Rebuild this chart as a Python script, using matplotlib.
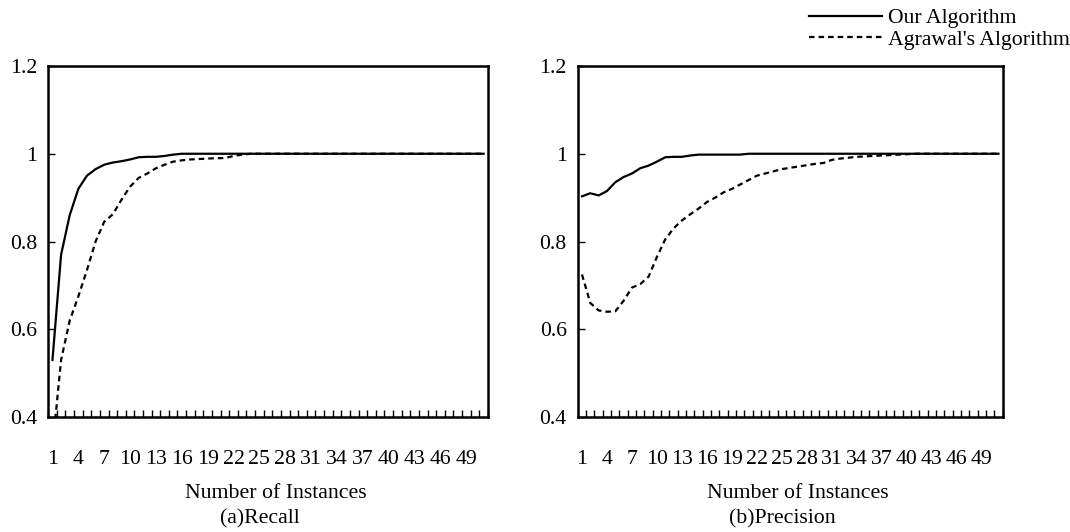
import numpy as np
import matplotlib
matplotlib.use('Agg')
import matplotlib.pyplot as plt
from matplotlib.lines import Line2D

plt.rcParams['font.family'] = ['Liberation Serif', 'DejaVu Serif']
plt.rcParams['font.size'] = 15.7

# data (instances 1..51)
instances = np.arange(1, 52)
recall_ours = [0.53, 0.77, 0.86, 0.92, 0.95, 0.965, 0.975, 0.98, 0.983, 0.987,
               0.992, 0.993, 0.993, 0.995, 0.998] + [1.0] * 36
recall_agrawal = [0.33, 0.53, 0.62, 0.675, 0.735, 0.80, 0.845, 0.862, 0.895, 0.925,
                  0.945, 0.955, 0.967, 0.975, 0.982, 0.985, 0.987, 0.988, 0.989, 0.99,
                  0.99, 0.995, 0.998] + [1.0] * 28
precision_ours = [0.903, 0.91, 0.905, 0.915, 0.935, 0.947, 0.955, 0.967, 0.973, 0.982,
                  0.992, 0.993, 0.993, 0.996, 0.998, 0.998, 0.998, 0.998, 0.998, 0.998] + [1.0] * 31
precision_agrawal = [0.725, 0.66, 0.643, 0.64, 0.641, 0.665, 0.695, 0.703, 0.72, 0.765,
                     0.805, 0.83, 0.848, 0.862, 0.875, 0.89, 0.90, 0.912, 0.92, 0.93,
                     0.94, 0.95, 0.955, 0.96, 0.965, 0.968, 0.971, 0.974, 0.977, 0.979,
                     0.986, 0.989, 0.991, 0.993, 0.994, 0.995, 0.996, 0.997, 0.998, 0.999] + [1.0] * 11
xtick_vals = list(range(1, 50, 3))
ytick_vals = [0.4, 0.6, 0.8, 1.0, 1.2]
ytick_labels = ['0.4', '0.6', '0.8', '1', '1.2']

fig = plt.figure(figsize=(10.7, 5.32), dpi=100)
ax1 = fig.add_axes([0.045, 0.216, 0.411, 0.660])
ax2 = fig.add_axes([0.540, 0.216, 0.397, 0.660])

dash = (2.5, 1.8)
panels = [(ax1, recall_ours, recall_agrawal, '(a)Recall'),
          (ax2, precision_ours, precision_agrawal, '(b)Precision')]
for ax, ours, agr, cap in panels:
    ax.plot(instances, ours, color='black', lw=1.6)
    ax.plot(instances, agr, color='black', lw=1.6, dashes=dash)
    ax.set_xlim(0.5, 51.5)
    ax.set_ylim(0.4, 1.2)
    ax.set_yticks(ytick_vals)
    ax.set_yticklabels(ytick_labels)
    ax.set_xticks(xtick_vals)
    ax.set_xticks(np.arange(0.5, 52, 1), minor=True)
    ax.tick_params(axis='x', which='major', length=0, pad=24)
    ax.tick_params(axis='x', which='minor', direction='in', length=5, width=1)
    ax.tick_params(axis='y', direction='in', length=5, width=1, pad=8)
    for s in ax.spines.values():
        s.set_linewidth(1.8)
    ax.text(0.518, -0.219, 'Number of Instances', transform=ax.transAxes,
            ha='center', va='center')
    ax.text(0.482, -0.291, cap, transform=ax.transAxes, ha='center', va='center')

handles = [Line2D([], [], color='black', lw=1.6),
           Line2D([], [], color='black', lw=1.6, dashes=dash)]
fig.legend(handles, ['Our Algorithm', "Agrawal's Algorithm"], loc='upper left',
           bbox_to_anchor=(0.738, 1.022), frameon=False, handlelength=3.35,
           handletextpad=0.25, labelspacing=0.05, fontsize=15.7)

fig.savefig('out.png', dpi=100)
